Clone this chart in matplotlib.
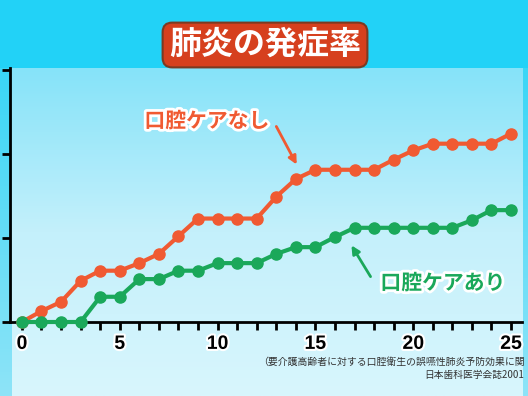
import matplotlib
matplotlib.use("Agg")
import matplotlib.pyplot as plt
import matplotlib.patheffects as pe
import numpy as np
from matplotlib.colors import LinearSegmentedColormap

plt.rcParams["font.family"] = ["Noto Sans CJK JP", "DejaVu Sans"]

# months
months = list(range(26))
no_care = [0, 0.13, 0.24, 0.49, 0.61, 0.61, 0.70, 0.81, 1.02, 1.23, 1.23, 1.23, 1.23,
           1.49, 1.70, 1.81, 1.81, 1.81, 1.81, 1.93, 2.04, 2.12, 2.12, 2.12, 2.12, 2.24]
with_care = [0, 0, 0, 0, 0.30, 0.30, 0.51, 0.51, 0.61, 0.61, 0.70, 0.70, 0.70,
             0.81, 0.89, 0.89, 1.01, 1.12, 1.12, 1.12, 1.12, 1.12, 1.12, 1.21, 1.33, 1.33]
x_labels = {0: "0", 5: "5", 10: "10", 15: "15", 20: "20", 25: "25"}
title = "肺炎の発症率"
label_no = "口腔ケアなし"
label_yes = "口腔ケアあり"
note1 = "（要介護高齢者に対する口腔衛生の誤嚥性肺炎予防効果に関"
note2 = "日本歯科医学会誌2001"

orange = "#f05a32"
green = "#1aa85a"

fig = plt.figure(figsize=(5.28, 3.96), dpi=100, facecolor="#22d2f7")

# background in pixel coordinates
bg = fig.add_axes([0, 0, 1, 1], zorder=0)
bg.axis("off")
panel = LinearSegmentedColormap.from_list("panel", ["#86e3f9", "#c4f0fb", "#d8f6fd"])
grad = np.linspace(0, 1, 200).reshape(-1, 1)
bg.imshow(grad, cmap=panel, extent=(12, 523, 396, 68), aspect="auto")
side = LinearSegmentedColormap.from_list("side", ["#3ad6f6", "#8ee4f8"])
bg.imshow(grad, cmap=side, extent=(0, 12, 396, 68), aspect="auto")
bg.imshow(grad, cmap=side, extent=(523, 528, 396, 68), aspect="auto")
bg.set_xlim(0, 528)
bg.set_ylim(396, 0)

ax = fig.add_axes([10 / 528, 74 / 396, 512 / 528, 254 / 396], zorder=2)
ax.patch.set_alpha(0)
ax.plot(months, no_care, color=orange, lw=3, marker="o", ms=8, clip_on=False, zorder=3)
ax.plot(months, with_care, color=green, lw=3, marker="o", ms=8, clip_on=False, zorder=4)
ax.set_xlim(-0.61, 25.56)
ax.set_ylim(0, 3.02)
for s in ["top", "right"]:
    ax.spines[s].set_visible(False)
for s in ["left", "bottom"]:
    ax.spines[s].set_linewidth(2)
    ax.spines[s].set_color("black")
ax.set_xticks(months)
ax.set_xticklabels([x_labels.get(m, "") for m in months])
ax.set_yticks([0, 1, 2, 3])
ax.set_yticklabels([])
ax.tick_params(axis="both", direction="out", length=6, width=2, color="black")
ax.tick_params(axis="x", pad=4)
for t in ax.get_xticklabels():
    t.set_fontfamily("Liberation Sans")
    t.set_fontsize(14)
    t.set_fontweight("bold")
    t.set_path_effects([pe.withStroke(linewidth=3, foreground="white")])

# overlay for texts
ov = fig.add_axes([0, 0, 1, 1], zorder=5)
ov.set_xlim(0, 528)
ov.set_ylim(396, 0)
ov.axis("off")
ov.text(265, 45, title, ha="center", va="center", fontsize=23, fontweight="bold",
        color="white",
        bbox=dict(boxstyle="round,pad=0.2,rounding_size=0.3", fc="#d6401e", ec="#7b3a22", lw=1.5))
ov.text(207, 121, label_no, ha="center", va="center", fontsize=15, fontweight="bold",
        color=orange, path_effects=[pe.withStroke(linewidth=4, foreground="white")])
ov.annotate("", xy=(298, 167), xytext=(275, 124),
            arrowprops=dict(arrowstyle="-|>", color=orange, lw=2, mutation_scale=12))
ov.text(443, 283, label_yes, ha="center", va="center", fontsize=15, fontweight="bold",
        color=green, path_effects=[pe.withStroke(linewidth=4, foreground="white")])
ov.annotate("", xy=(350, 243), xytext=(372, 279),
            arrowprops=dict(arrowstyle="-|>", color=green, lw=2, mutation_scale=12))
ov.text(258, 362, note1, ha="left", va="center", fontsize=7.1, color="#333333")
ov.text(524, 375, note2, ha="right", va="center", fontsize=7, color="#333333")

fig.savefig("out.png", dpi=100, facecolor=fig.get_facecolor())
